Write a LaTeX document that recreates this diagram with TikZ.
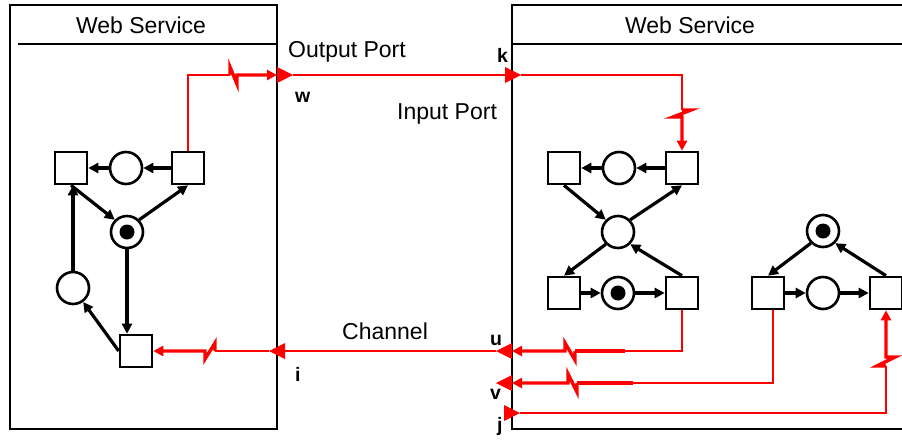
\documentclass[tikz,border=0pt]{standalone}
\usepackage{fontspec}
\setmainfont{Liberation Sans}
\usetikzlibrary{arrows.meta}

% filled red port triangles, given by their base midpoint
\newcommand\portright[1]{\fill[red] (#1) ++(0,-8) -- ++(16,8) -- ++(-16,8) -- cycle;}
\newcommand\portleft[1]{\fill[red] (#1) ++(0,-8) -- ++(-16,8) -- ++(16,8) -- cycle;}

\begin{document}
\begin{tikzpicture}[x=1pt,y=-1pt,
  trans/.style={draw, line width=2.6pt, minimum size=32pt, inner sep=0pt, fill=white},
  place/.style={draw, circle, line width=2.6pt, minimum size=32pt, inner sep=0pt, fill=white},
  token/.style={fill=black},
  arc/.style={line width=3.2pt, -{Triangle[length=10pt,width=10pt]}},
  wire/.style={red, line width=2.2pt},
  feed/.style={red, line width=3.4pt},
  feedend/.style={feed, -{Triangle[length=10pt,width=10pt]}},
  frame/.style={line width=2.4pt},
  title/.style={font=\fontsize{23}{23}\selectfont, inner sep=0pt, anchor=base},
  lbl/.style={font=\fontsize{23}{23}\selectfont, inner sep=0pt, anchor=base west},
  portlbl/.style={font=\fontsize{19.5}{19.5}\selectfont\bfseries, inner sep=0pt, anchor=base west},
]
\clip (0,0) rectangle (902,439);
\fill[white] (0,0) rectangle (902,439);

% service frames
\draw[frame] (10,5) rectangle (277,429);
\draw[frame] (18,44) -- (277,44);
\draw[frame] (512,5) rectangle (920,429);
\draw[frame] (512,44) -- (920,44);
\node[title] (ws1) at (141,33) {Web Service};
\node[title] (ws2) at (690,33) {Web Service};

% texts between the services
\node[lbl] (outp) at (288,57) {Output Port};
\node[lbl] (inp) at (397,119) {Input Port};
\node[lbl] (chan) at (342,339) {Channel};
\node[portlbl] (lw) at (295,102) {w};
\node[portlbl] (lk) at (497,62) {k};
\node[portlbl] (lu) at (490,345) {u};
\node[portlbl] (li) at (295,381) {i};
\node[portlbl] (lv) at (490,399) {v};
\node[portlbl] (lj) at (497,431) {j};

% left net
\node[trans] (a1) at (71,168) {};
\node[place] (a2) at (126,168) {};
\node[trans] (a3) at (188,168) {};
\node[place] (a4) at (127,232) {};
\node[place] (a5) at (73,288) {};
\node[trans] (a6) at (136,351) {};

% right net
\node[trans] (b1) at (564,168) {};
\node[place] (b2) at (619,168) {};
\node[trans] (b3) at (682,168) {};
\node[place] (b4) at (618,232) {};
\node[trans] (b5) at (564,293) {};
\node[place] (b6) at (618,293) {};
\node[trans] (b7) at (682,293) {};
\node[place] (c1) at (823,231) {};
\node[trans] (c2) at (768,293) {};
\node[place] (c3) at (823,293) {};
\node[trans] (c4) at (886,293) {};

% tokens
\fill[token] (a4) circle (7.5pt);
\fill[token] (b6) circle (7.5pt);
\fill[token] (c1) circle (7.5pt);

% ports (base midpoint and apex)
\coordinate (w) at (277,75);  \coordinate (wa) at (293,75);
\coordinate (k) at (505,75);  \coordinate (ka) at (521,75);
\coordinate (u) at (512,351); \coordinate (ua) at (496,351);
\coordinate (i) at (285,351); \coordinate (ia) at (269,351);
\coordinate (v) at (512,383); \coordinate (va) at (496,383);
\coordinate (j) at (504,413); \coordinate (ja) at (520,413);
\portright{w}
\portright{k}
\portleft{u}
\portleft{i}
\portleft{v}
\portright{j}

% breaks in the red wires
\coordinate (zw) at (230,75);
\coordinate (zk) at (682,110);
\coordinate (zu) at (575,351);
\coordinate (zi) at (215,351);
\coordinate (zv) at (577,383);
\coordinate (zj) at (886,366);
\coordinate (ut) at (625,351);
\coordinate (vt) at (633,383);

% red wires
\draw[wire] (a3.north) |- (zw);
\draw[feedend] (zw) -- ++(0,-8) -- ++(7,17) -- ++(0,-9) -- (w);
\draw[wire] (wa) -- (k);
\draw[wire] (ka) -| (zk);
\draw[feedend] (zk) -- ++(9,0) -- ++(-18,7) -- ++(9,0) -- (b3.north);
\draw[wire] (b7.south) |- (ut);
\draw[feed] (ut) -- (zu);
\draw[feedend] (zu) -- ++(0,9) -- ++(-10,-17) -- ++(0,8) -- (u);
\draw[wire] (ua) -- (i);
\draw[wire] (ia) -- (zi);
\draw[feedend] (zi) -- ++(0,-8) -- ++(-10,16) -- ++(0,-8) -- (a6.east);
\draw[wire] ([xshift=5pt]c2.south) |- (vt);
\draw[feed] (vt) -- (zv);
\draw[feedend] (zv) -- ++(0,9) -- ++(-9,-18) -- ++(0,9) -- (v);
\draw[wire] (ja) -| (zj);
\draw[feedend] (zj) -- ++(-9,0) -- ++(18,-9) -- ++(-9,0) -- (c4.south);

% left net arcs
\draw[arc] (a3) -- (a2);
\draw[arc] (a2) -- (a1);
\draw[arc] (a1.south) -- (a4.north west);
\draw[arc] (a4.north east) -- (a3.south);
\draw[arc] (a4.south) -- (a4.south |- a6.north);
\draw[arc] (a6.west) -- (a5);
\draw[arc] (a5.north) -- (a5.north |- a1.south);

% right net arcs
\draw[arc] (b3) -- (b2);
\draw[arc] (b2) -- (b1);
\draw[arc] (b1.south) -- (b4.north west);
\draw[arc] (b4.north east) -- (b3.south);
\draw[arc] (b4.south west) -- (b5.north);
\draw[arc] (b7.north) -- (b4.south east);
\draw[arc] (b5) -- (b6);
\draw[arc] (b6) -- (b7);
\draw[arc] (c1.south west) -- (c2.north);
\draw[arc] (c2) -- (c3);
\draw[arc] (c3) -- (c4);
\draw[arc] (c4.north) -- (c1.south east);
\end{tikzpicture}
\end{document}
